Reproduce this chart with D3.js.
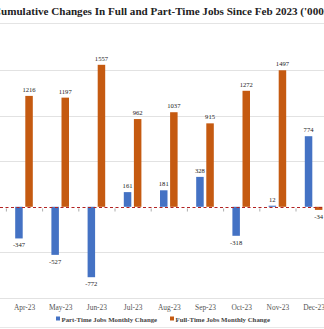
<!DOCTYPE html>
<html>
<head>
<meta charset="utf-8">
<script src="https://cdn.jsdelivr.net/npm/d3@7"></script>
<style>
  html, body { margin: 0; padding: 0; background: #fff; overflow: hidden; }
  svg { display: block; }
</style>
</head>
<body>
<svg id="chart" width="324" height="329"></svg>
<script>
// Monthly job changes ('000s)
const months = ["Apr-23", "May-23", "Jun-23", "Jul-23", "Aug-23", "Sep-23", "Oct-23", "Nov-23", "Dec-23"];
const partTime = [-347, -527, -772, 161, 181, 328, -318, 12, 774];
const fullTime = [1216, 1197, 1557, 962, 1037, 915, 1272, 1497, -34];
const yTicks = [-1000, -500, 500, 1000, 1500];
const seriesNames = ["Part-Time Jobs Monthly Change", "Full-Time Jobs Monthly Change"];
const seriesColors = ["#4472C4", "#C55A11"];
const titleText = "Cumulative Changes In Full and Part-Time Jobs Since Feb 2023 ('000s)";

const svg = d3.select("#chart");
const W = 324, H = 329;
const serif = "'Liberation Serif', 'DejaVu Serif', serif";

const x = d3.scaleBand().domain(months).range([6.4, 6.4 + 36.2 * months.length]);
const y = d3.scaleLinear().domain([-1000, 1500]).range([298, 70]);

// title: sized so the run from "umulative" to "('000" spans the panel width
function measure(str, size) {
  const t = svg.append("text").attr("font-family", serif).attr("font-weight", "bold")
    .attr("font-size", size).text(str);
  const w = t.node().getComputedTextLength();
  t.remove();
  return w;
}
const baseSize = 12;
const wC = measure("C", baseSize);
const wSub = measure("Cumulative Changes In Full and Part-Time Jobs Since Feb 2023 ('000", baseSize);
const k = 323 / (wSub - wC);
const titleSize = baseSize * k;
const titleX = 1 - wC * k;
svg.append("text")
  .attr("x", titleX).attr("y", 15)
  .attr("font-family", serif).attr("font-weight", "bold")
  .attr("font-size", titleSize).attr("fill", "#222")
  .text(titleText);
svg.append("line").attr("x1", 0).attr("x2", W).attr("y1", 23.5).attr("y2", 23.5)
  .attr("stroke", "#e4e4e4");

// gridlines
svg.append("g").selectAll("line").data(yTicks).join("line")
  .attr("x1", 0).attr("x2", W)
  .attr("y1", d => Math.round(y(d)) + 0.5).attr("y2", d => Math.round(y(d)) + 0.5)
  .attr("stroke", "#e2e2e2");

const bw = 7.5, gap = 2.6;
const data = months.map((m, i) => ({ m, pt: partTime[i], ft: fullTime[i] }));

function drawSeries(key, color, offset) {
  const g = svg.append("g");
  g.selectAll("rect").data(data).join("rect")
    .attr("x", d => x(d.m) + x.bandwidth() / 2 + offset)
    .attr("width", bw)
    .attr("y", d => y(Math.max(0, d[key])))
    .attr("height", d => Math.abs(y(d[key]) - y(0)))
    .attr("fill", color);
  g.selectAll("text").data(data).join("text")
    .attr("x", d => x(d.m) + x.bandwidth() / 2 + offset + bw / 2)
    .attr("y", d => d[key] >= 0 ? y(d[key]) - 4 : y(d[key]) + 9)
    .attr("text-anchor", "middle")
    .attr("font-family", serif).attr("font-size", 6.6).attr("fill", "#222")
    .text(d => d[key]);
}
drawSeries("pt", seriesColors[0], -bw - gap / 2 - 0.5);
drawSeries("ft", seriesColors[1], gap / 2 - 0.5);

// zero axis: dashed line with ticks at category boundaries
const zeroY = Math.round(y(0)) + 0.5;
svg.append("line").attr("x1", 0).attr("x2", W).attr("y1", zeroY).attr("y2", zeroY)
  .attr("stroke", "#B22222").attr("stroke-width", 1.1).attr("stroke-dasharray", "3,2.5");
svg.append("g").selectAll("line").data(months).join("line")
  .attr("x1", d => x(d)).attr("x2", d => x(d))
  .attr("y1", zeroY + 1).attr("y2", zeroY + 4)
  .attr("stroke", "#999").attr("stroke-width", 0.8);

// month labels
svg.append("g").selectAll("text").data(months).join("text")
  .attr("x", d => x(d) + x.bandwidth() / 2)
  .attr("y", 310)
  .attr("text-anchor", "middle")
  .attr("font-family", serif).attr("font-size", 7.4).attr("fill", "#555")
  .text(d => d);

// legend
const legend = svg.append("g");
const legendX = [56, 170];
seriesNames.forEach((name, i) => {
  legend.append("rect").attr("x", legendX[i]).attr("y", 316.5).attr("width", 4).attr("height", 4)
    .attr("fill", seriesColors[i]);
  legend.append("text").attr("x", legendX[i] + 5.5).attr("y", 321.5)
    .attr("font-family", serif).attr("font-weight", "bold").attr("font-size", 6.8).attr("fill", "#444")
    .text(name);
});
svg.append("line").attr("x1", 0).attr("x2", W).attr("y1", 327.5).attr("y2", 327.5).attr("stroke", "#e8e8e8");
</script>
</body>
</html>
